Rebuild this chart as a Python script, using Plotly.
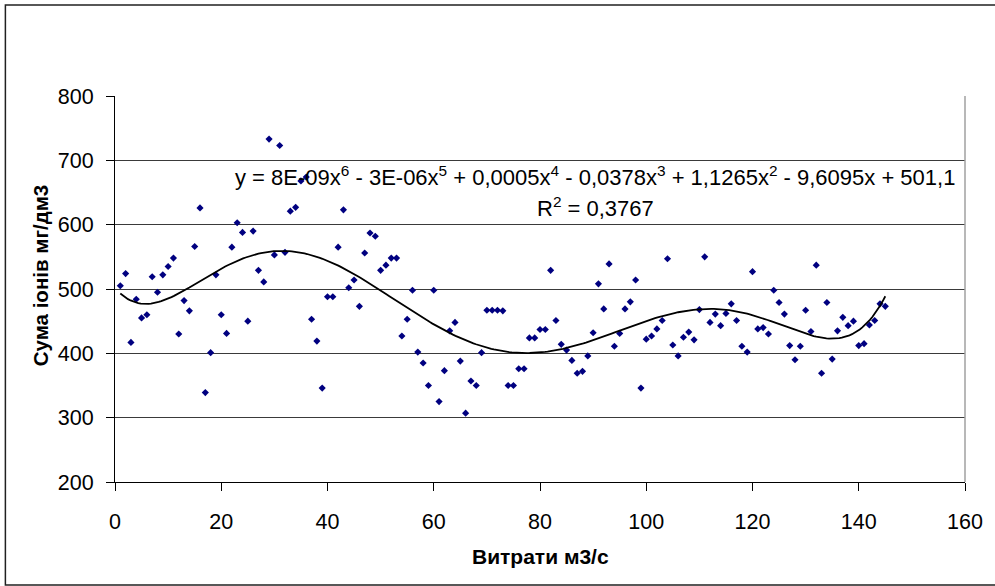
import numpy as np
import plotly.graph_objects as go

# Витрати (м3/с) – x values
flow = list(range(1, 146))

# Сума іонів (мг/дм3)
ions = [505, 524, 417, 484, 455, 460, 519, 495, 522, 535,
        548, 430, 482, 466, 566, 626, 339, 401, 522, 460,
        431, 565, 603, 588, 450, 590, 529, 511, 733, 553,
        723, 557, 621, 627, 668, 674, 453, 419, 346, 488,
        488, 565, 623, 502, 514, 473, 556, 587, 582, 529,
        537, 548, 548, 427, 453, 498, 402, 385, 350, 498,
        325, 373, 435, 448, 388, 307, 357, 350, 401, 467,
        467, 467, 466, 350, 350, 376, 376, 424, 424, 437,
        437, 529, 451, 414, 405, 389, 369, 372, 396, 432,
        508, 469, 539, 411, 431, 469, 480, 514, 346, 422,
        427, 438, 451, 547, 413, 396, 425, 433, 421, 468,
        550, 448, 461, 443, 462, 477, 451, 411, 402, 527,
        438, 440, 430, 498, 479, 461, 412, 390, 411, 467,
        434, 537, 369, 479, 391, 435, 456, 443, 450, 412,
        415, 444, 451, 477, 473]

x_ticks = [0, 20, 40, 60, 80, 100, 120, 140, 160]
y_ticks = [200, 300, 400, 500, 600, 700, 800]

x_title = "Витрати м3/с"
y_title = "Сума іонів мг/дм3"
eq_text = ("y = 8E-09x<sup>6</sup> - 3E-06x<sup>5</sup> + 0,0005x<sup>4</sup> - 0,0378x<sup>3</sup>"
           " + 1,1265x<sup>2</sup> - 9,6095x + 501,1")
r2_text = "R<sup>2</sup> = 0,3767"

# polynomial (6th order) trendline fitted to the data, as Excel does
poly = np.polynomial.Polynomial.fit(np.array(flow, float), np.array(ions, float), 6)
xs = np.linspace(min(flow), max(flow), 300)
ys = poly(xs)

FONT = "Liberation Sans, Arial, sans-serif"

fig = go.Figure()
fig.add_trace(go.Scatter(
    x=flow, y=ions, mode="markers",
    marker=dict(symbol="diamond", size=5.5, color="#000080", line=dict(width=0)),
    showlegend=False, hoverinfo="x+y"))
fig.add_trace(go.Scatter(
    x=xs, y=ys, mode="lines", line=dict(color="black", width=1.8),
    showlegend=False, hoverinfo="skip"))

fig.update_layout(
    width=995, height=586,
    margin=dict(l=115, r=27, t=96, b=104),
    paper_bgcolor="white", plot_bgcolor="white",
    font=dict(family=FONT, color="black"),
    xaxis=dict(range=[0, 160], tickvals=x_ticks, ticks="outside", ticklen=8,
               tickcolor="black", showline=True, linecolor="black", linewidth=1,
               showgrid=False, zeroline=False, tickfont=dict(size=21.5),
               ticklabelstandoff=12),
    yaxis=dict(range=[200, 800], tickvals=y_ticks, ticks="outside", ticklen=8,
               tickcolor="black", showline=True, linecolor="black", linewidth=1,
               showgrid=True, gridcolor="#3a3a3a", gridwidth=1, zeroline=False,
               tickfont=dict(size=21.5), ticklabelstandoff=8),
)

# plot-area right border (grey)
fig.add_shape(type="line", xref="paper", yref="paper", x0=1, x1=1, y0=0, y1=1,
              line=dict(color="#a0a0a0", width=1.5))
# chart outer border
fig.add_shape(type="rect", xref="paper", yref="paper",
              x0=(5 - 115) / 853, x1=(1000 - 115) / 853,
              y0=(482 - 585) / 386, y1=(482 - 5) / 386,
              line=dict(color="#202020", width=1.5), fillcolor="rgba(0,0,0,0)", layer="below")

fig.add_annotation(text=eq_text, xref="paper", yref="paper",
                   x=(596.5 - 115) / 853, y=(482 - 175.5) / 386,
                   xanchor="center", yanchor="middle", showarrow=False,
                   font=dict(size=22, family=FONT, color="black"))
fig.add_annotation(text=r2_text, xref="paper", yref="paper",
                   x=(597.5 - 115) / 853, y=(482 - 207) / 386,
                   xanchor="center", yanchor="middle", showarrow=False,
                   font=dict(size=22, family=FONT, color="black"))
fig.add_annotation(text="<b>" + x_title + "</b>", xref="paper", yref="paper",
                   x=0.5, y=(482 - 556) / 386, xanchor="center", yanchor="middle",
                   showarrow=False, font=dict(size=21, family=FONT, color="black"))
fig.add_annotation(text="<b>" + y_title + "</b>", xref="paper", yref="paper",
                   x=(40 - 115) / 853, y=(482 - 275) / 386, xanchor="center", yanchor="middle",
                   textangle=-90, showarrow=False, font=dict(size=20.5, family=FONT, color="black"))

fig.write_html("out.html",
               config={"displayModeBar": False},
               post_script="document.body.style.margin='0';document.body.style.overflow='hidden';")
